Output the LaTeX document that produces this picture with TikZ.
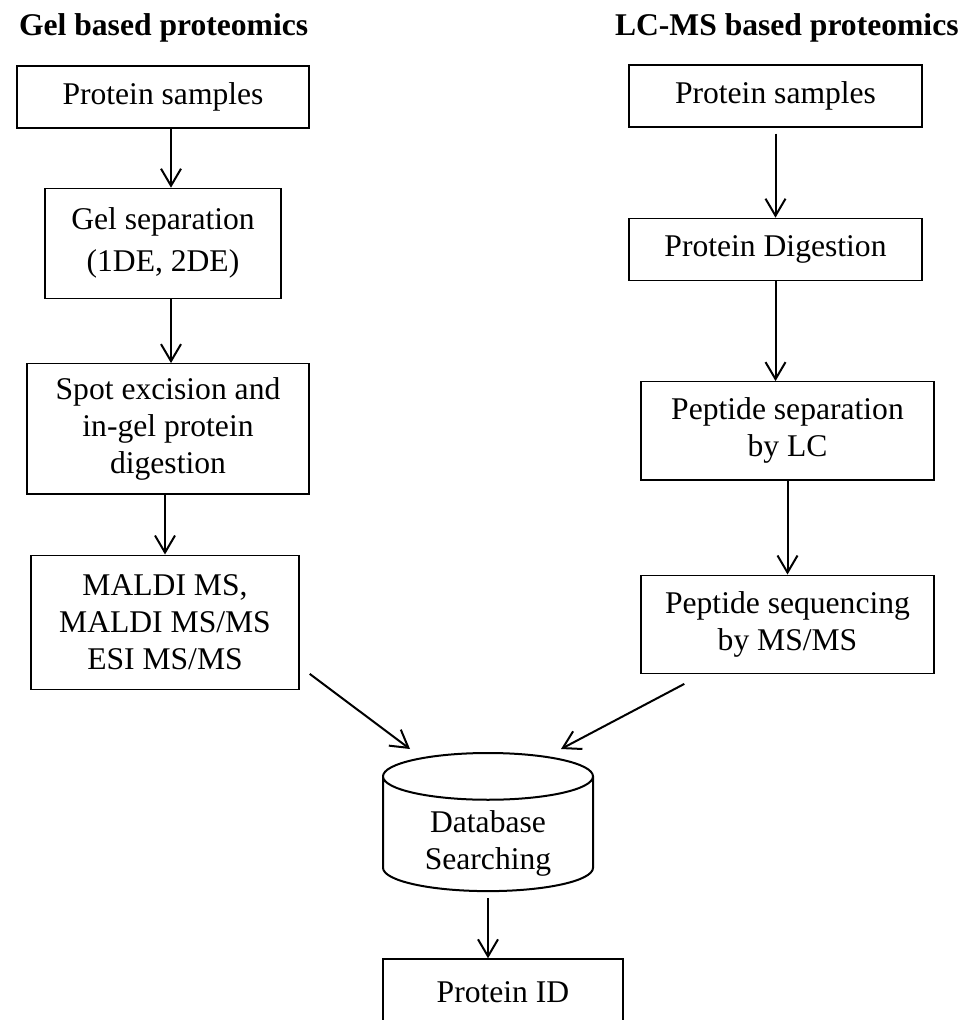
\documentclass[tikz,border=0pt]{standalone}
\usepackage{fontspec}
\setmainfont{Liberation Serif}
\usetikzlibrary{arrows.meta, shapes.geometric, positioning}

\begin{document}
\begin{tikzpicture}[x=0.5pt,y=-0.5pt,
 font=\fontsize{15.8}{18.5}\selectfont,
 box/.style={rectangle,draw,line width=0.7pt,align=center,inner sep=0pt},
 title/.style={font=\fontsize{15.8}{18.5}\selectfont\bfseries,anchor=west},
 db/.style={cylinder,shape border rotate=90,draw,line width=1pt,aspect=0.37,
   inner sep=0pt,minimum width=105pt,minimum height=62.5pt},
 arr/.style={line width=1pt,-{Straight Barb[length=8.5pt,width=10pt]}}]
  \path[use as bounding box,clip] (0,0) rectangle (960,1020);

  \node[title] (gtitle) at (12,28) {Gel based proteomics};
  \node[title] (ltitle) at (608,28) {LC-MS based proteomics};

  % gel column
  \node[box,minimum width=146pt,minimum height=31pt] (gel1) at (163,97) {Protein samples};
  \node[box,minimum width=118pt,minimum height=55pt,below=29.5pt of gel1] (gel2) {Gel separation\\[2.5pt](1DE, 2DE)};
  \node[box,minimum width=141pt,minimum height=65pt,below=32pt of gel2,xshift=2.5pt] (gel3) {Spot excision and\\in-gel protein\\digestion};
  \node[box,minimum width=134pt,minimum height=67pt,below=30pt of gel3,xshift=-1.5pt] (gel4) {MALDI MS,\\MALDI MS/MS\\ESI MS/MS};

  % LC-MS column
  \node[box,minimum width=146.5pt,minimum height=31pt] (lc1) at (775.5,96) {Protein samples};
  \node[box,minimum width=146.5pt,minimum height=31pt,below=45pt of lc1] (lc2) {Protein Digestion};
  \node[box,minimum width=146.5pt,minimum height=49pt,below=50pt of lc2,xshift=6pt] (lc3) {Peptide separation\\by LC};
  \node[box,minimum width=146.5pt,minimum height=49pt,below=47pt of lc3] (lc4) {Peptide sequencing\\by MS/MS};

  \node[db,anchor=north] (db) at (488,752)
    {\raisebox{-8.5pt}[16.75pt][16.75pt]{\begin{tabular}{@{}c@{}}Database\\Searching\end{tabular}}};
  \node[box,minimum width=120pt,minimum height=33pt] (pid) at (503,992) {Protein ID};

  \draw[arr] ([xshift=4pt]gel1.south) -- ([xshift=4pt]gel2.north);
  \draw[arr] ([xshift=4pt]gel2.south) -- ([xshift=1.5pt]gel3.north);
  \draw[arr] ([xshift=-1.5pt]gel3.south) -- (gel4.north);
  \draw[arr,shorten <=3pt] (lc1.south) -- (lc2.north);
  \draw[arr] (lc2.south) -- ([xshift=-6pt]lc3.north);
  \draw[arr] (lc3.south) -- (lc4.north);
  \draw[arr] ([shift={(5pt,8pt)}]gel4.south east) -- ([shift={(-39pt,1.5pt)}]db.north);
  \draw[arr] ([shift={(22pt,-5pt)}]lc4.south west) -- ([shift={(36.5pt,1.5pt)}]db.north);
  \draw[arr,shorten <=3pt] (db.south) -- (db.south |- pid.north);
\end{tikzpicture}
\end{document}
